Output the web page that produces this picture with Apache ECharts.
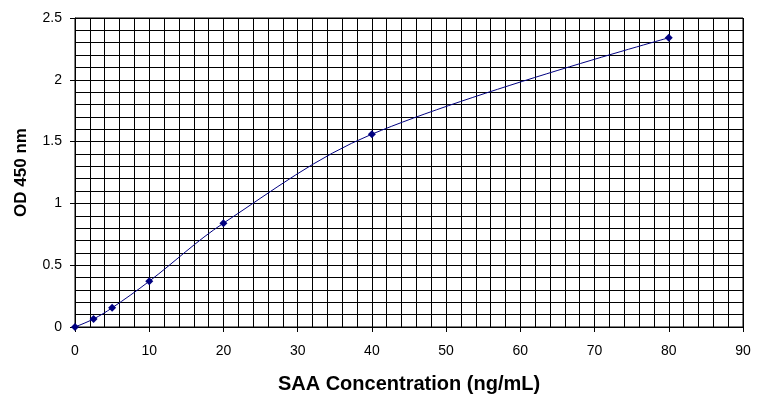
<!DOCTYPE html>
<html><head><meta charset="utf-8">
<script src="https://cdn.jsdelivr.net/npm/echarts@6/dist/echarts.min.js"></script>
<style>html,body{margin:0;padding:0;background:#fff}#c{width:764px;height:410px}</style>
</head><body><div id="c"></div>
<script>
const concentrations = [0, 2.5, 5, 10, 20, 40, 80];
const odValues = [0, 0.065, 0.155, 0.37, 0.84, 1.56, 2.34];
const xTitle = 'SAA Concentration (ng/mL)';
const yTitle = 'OD 450 nm';

const chart = echarts.init(document.getElementById('c'));
const font = 'Liberation Sans, Arial, sans-serif';
chart.setOption({
  animation: false,
  backgroundColor: '#fff',
  grid: { left: 75, right: 21, top: 18, bottom: 83, show: true, borderColor: '#000', borderWidth: 1 },
  xAxis: {
    type: 'value', min: 0, max: 90, interval: 10,
    name: xTitle, nameLocation: 'middle', nameGap: 47,
    nameTextStyle: { fontFamily: font, fontWeight: 'bold', fontSize: 20, color: '#000' },
    axisLine: { show: true, onZero: false, lineStyle: { color: '#000', width: 1 } },
    axisTick: { show: true, inside: false, length: 5, lineStyle: { color: '#000' } },
    axisLabel: { fontFamily: font, fontSize: 14, color: '#000', margin: 17 },
    splitLine: { show: true, lineStyle: { color: '#000', width: 1 } },
    minorTick: { show: false, splitNumber: 5 },
    minorSplitLine: { show: true, lineStyle: { color: '#000', width: 1 } }
  },
  yAxis: {
    type: 'value', min: 0, max: 2.5, interval: 0.5,
    name: yTitle, nameLocation: 'middle', nameGap: 45, nameRotate: 90,
    nameTextStyle: { fontFamily: font, fontWeight: 'bold', fontSize: 17, color: '#000' },
    axisLine: { show: true, lineStyle: { color: '#000', width: 1 } },
    axisTick: { show: true, inside: false, length: 5, lineStyle: { color: '#000' } },
    axisLabel: { fontFamily: font, fontSize: 14, color: '#000', margin: 13 },
    splitLine: { show: true, lineStyle: { color: '#000', width: 1 } },
    minorTick: { show: false, splitNumber: 5 },
    minorSplitLine: { show: true, lineStyle: { color: '#000', width: 1 } }
  },
  series: [{
    type: 'line',
    data: concentrations.map((x, i) => [x, odValues[i]]),
    smooth: 0.35,
    symbol: 'diamond', symbolSize: 8,
    itemStyle: { color: '#000080' },
    lineStyle: { color: '#000080', width: 1 }
  }]
});
</script></body></html>
